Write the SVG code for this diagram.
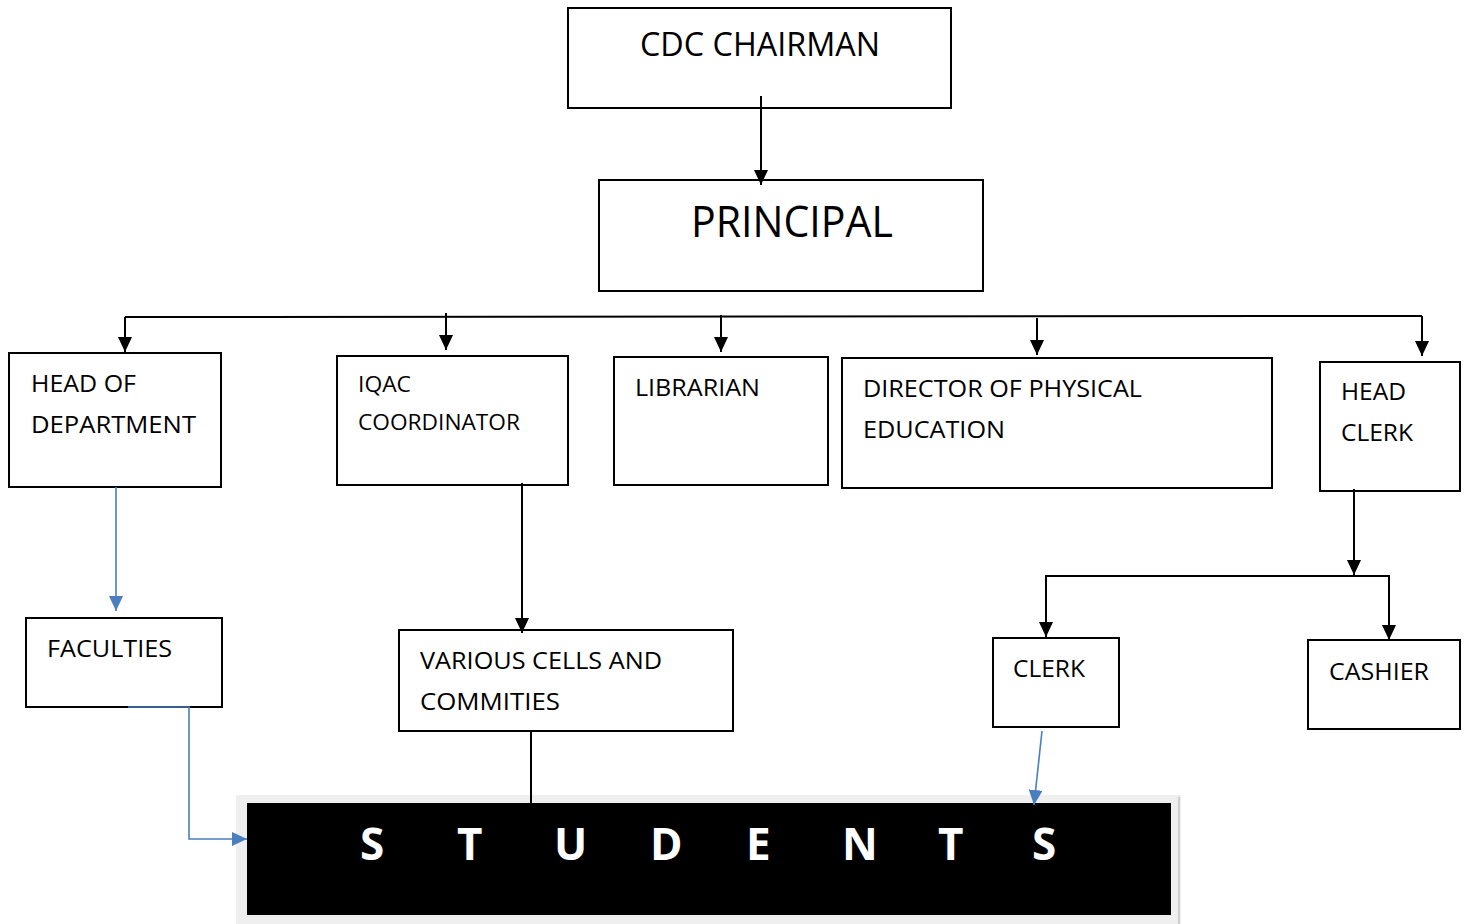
<svg xmlns="http://www.w3.org/2000/svg" width="1466" height="924" viewBox="0 0 1466 924">
<style>
.box{fill:#fff;stroke:#000;stroke-width:2}
.t{font-family:"Open Sans","Liberation Sans",sans-serif;fill:#000}
.c{fill:none;stroke:#000;stroke-width:2}
.b{fill:none;stroke:#4a7ebf;stroke-width:1.6}
.st{font-family:"Open Sans","Liberation Sans",sans-serif;font-weight:bold;fill:#fff;font-size:44px}
</style>
<defs>
<marker id="ah" markerUnits="userSpaceOnUse" markerWidth="16" markerHeight="16" refX="15" refY="7" orient="auto"><path d="M0,0 L15,7 L0,14 Z" fill="#000"/></marker>
<marker id="bh" markerUnits="userSpaceOnUse" markerWidth="16" markerHeight="16" refX="15" refY="7" orient="auto"><path d="M0,0 L15,7 L0,14 Z" fill="#4a7ebf"/></marker>
</defs>
<rect x="0" y="0" width="1466" height="924" fill="#fff"/>
<g id="students">
<rect x="236" y="795" width="945" height="129" fill="#efefef"/>
<line x1="1179" y1="797" x2="1179" y2="924" stroke="#cfcfcf" stroke-width="2"/>
<rect x="247" y="803" width="924" height="112" fill="#000"/>
<text class="st" y="860"><tspan x="360">S</tspan><tspan x="457">T</tspan><tspan x="554">U</tspan><tspan x="650">D</tspan><tspan x="746">E</tspan><tspan x="842">N</tspan><tspan x="938">T</tspan><tspan x="1032">S</tspan></text>
</g>
<g id="cdc-chairman">
<rect class="box" x="568" y="8" width="383" height="100"/>
<text class="t" x="640" y="56" font-size="32" textLength="240" lengthAdjust="spacingAndGlyphs">CDC CHAIRMAN</text>
</g>
<g id="principal">
<rect class="box" x="599" y="180" width="384" height="111"/>
<text class="t" x="691" y="237" font-size="44" textLength="202" lengthAdjust="spacingAndGlyphs">PRINCIPAL</text>
</g>
<g id="head-of-department">
<rect class="box" x="9" y="353" width="212" height="134"/>
<text class="t" x="31" y="392" font-size="24" textLength="105" lengthAdjust="spacingAndGlyphs">HEAD OF</text>
<text class="t" x="31" y="433" font-size="24" textLength="165" lengthAdjust="spacingAndGlyphs">DEPARTMENT</text>
</g>
<g id="iqac-coordinator">
<rect class="box" x="337" y="356" width="231" height="129"/>
<text class="t" x="358" y="392" font-size="22" textLength="53" lengthAdjust="spacingAndGlyphs">IQAC</text>
<text class="t" x="358" y="430" font-size="22" textLength="162" lengthAdjust="spacingAndGlyphs">COORDINATOR</text>
</g>
<g id="librarian">
<rect class="box" x="614" y="357" width="214" height="128"/>
<text class="t" x="635" y="396" font-size="24" textLength="125" lengthAdjust="spacingAndGlyphs">LIBRARIAN</text>
</g>
<g id="director-physical-education">
<rect class="box" x="842" y="358" width="430" height="130"/>
<text class="t" x="863" y="397" font-size="24" textLength="279" lengthAdjust="spacingAndGlyphs">DIRECTOR OF PHYSICAL</text>
<text class="t" x="863" y="438" font-size="24" textLength="142" lengthAdjust="spacingAndGlyphs">EDUCATION</text>
</g>
<g id="head-clerk">
<rect class="box" x="1320" y="362" width="140" height="129"/>
<text class="t" x="1341" y="400" font-size="24" textLength="65" lengthAdjust="spacingAndGlyphs">HEAD</text>
<text class="t" x="1341" y="441" font-size="24" textLength="72" lengthAdjust="spacingAndGlyphs">CLERK</text>
</g>
<g id="faculties">
<rect class="box" x="26" y="618" width="196" height="89"/>
<text class="t" x="47" y="657" font-size="24" textLength="125" lengthAdjust="spacingAndGlyphs">FACULTIES</text>
</g>
<g id="various-cells">
<rect class="box" x="399" y="630" width="334" height="101"/>
<text class="t" x="420" y="669" font-size="24" textLength="242" lengthAdjust="spacingAndGlyphs">VARIOUS CELLS AND</text>
<text class="t" x="420" y="710" font-size="24" textLength="140" lengthAdjust="spacingAndGlyphs">COMMITIES</text>
</g>
<g id="clerk">
<rect class="box" x="993" y="638" width="126" height="89"/>
<text class="t" x="1013" y="677" font-size="24" textLength="72" lengthAdjust="spacingAndGlyphs">CLERK</text>
</g>
<g id="cashier">
<rect class="box" x="1308" y="640" width="152" height="89"/>
<text class="t" x="1329" y="680" font-size="24" textLength="100" lengthAdjust="spacingAndGlyphs">CASHIER</text>
</g>
<g id="connectors">
<line class="c" x1="761" y1="96" x2="761" y2="185" marker-end="url(#ah)"/>
<line class="c" x1="125" y1="317" x2="1422" y2="316"/>
<line class="c" x1="125" y1="317" x2="125" y2="352" marker-end="url(#ah)"/>
<line class="c" x1="446" y1="313" x2="446" y2="350" marker-end="url(#ah)"/>
<line class="c" x1="721" y1="315" x2="721" y2="352" marker-end="url(#ah)"/>
<line class="c" x1="1037" y1="318" x2="1037" y2="355" marker-end="url(#ah)"/>
<line class="c" x1="1422" y1="316" x2="1422" y2="356" marker-end="url(#ah)"/>
<line class="b" x1="116" y1="487" x2="116" y2="611" marker-end="url(#bh)"/>
<line class="c" x1="522" y1="483" x2="522" y2="633" marker-end="url(#ah)"/>
<line class="c" x1="1354" y1="489" x2="1354" y2="575" marker-end="url(#ah)"/>
<polyline class="c" points="1046,637 1046,576 1389,576 1389,640" marker-end="url(#ah)"/>
<line class="c" x1="1046" y1="577" x2="1046" y2="637" marker-end="url(#ah)"/>
<polyline class="b" points="128,707 189,707 189,839 247,839" marker-end="url(#bh)"/>
<line x1="531" y1="731" x2="531" y2="803" stroke="#000" stroke-width="2"/>
<line class="b" x1="1042" y1="731" x2="1034" y2="805" marker-end="url(#bh)"/>
</g>
</svg>
